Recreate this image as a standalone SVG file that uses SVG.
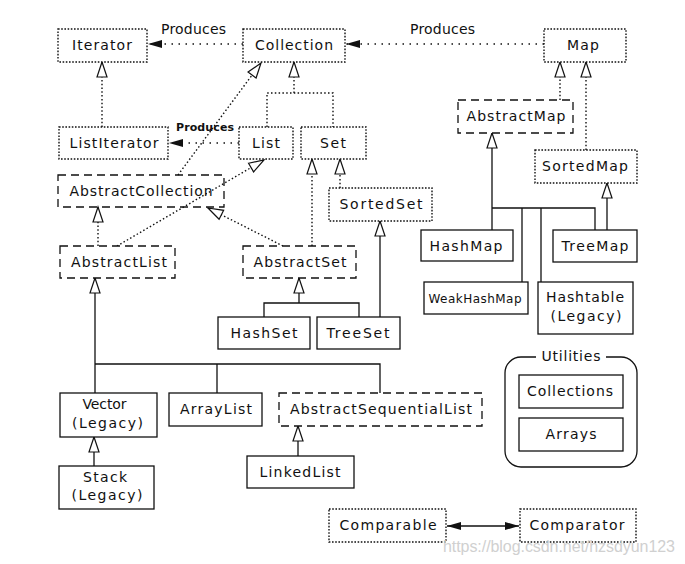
<svg xmlns="http://www.w3.org/2000/svg" width="685" height="564" viewBox="0 0 685 564">
<style>
.t{font-family:"DejaVu Sans","Liberation Sans",sans-serif;font-size:14px;fill:#111;text-anchor:middle}
.ts{font-family:"DejaVu Sans","Liberation Sans",sans-serif;font-size:11px;font-weight:bold;fill:#111;text-anchor:middle}
.tw{font-family:"DejaVu Sans","Liberation Sans",sans-serif;font-size:12px;fill:#111;text-anchor:middle}
.box{fill:#fff;stroke:#111;stroke-width:1.3}
.dot{fill:#fff;stroke:#111;stroke-width:1.4;stroke-dasharray:1.6 1.6}
.dash{fill:#fff;stroke:#111;stroke-width:1.3;stroke-dasharray:8 5}
.ln{fill:none;stroke:#111;stroke-width:1.3}
.dl{fill:none;stroke:#111;stroke-width:1.4;stroke-dasharray:1.5 2.3}
.pl{fill:none;stroke:#111;stroke-width:1.4;stroke-dasharray:1.5 5.5}
.tri{marker-end:url(#tri)}
.arr{marker-end:url(#arr)}
</style>
<defs>
<marker id="tri" markerUnits="userSpaceOnUse" markerWidth="18" markerHeight="14" viewBox="-1 -2 18 14" refX="15" refY="5" orient="auto"><path d="M0,0 L15,5 L0,10 Z" fill="#fff" stroke="#111" stroke-width="1.2"/></marker>
<marker id="arr" markerUnits="userSpaceOnUse" markerWidth="15" markerHeight="9" viewBox="0 0 15 9" refX="14" refY="4.5" orient="auto"><path d="M0,0.5 L14,4.5 L0,8.5 Z" fill="#111"/></marker>
<marker id="arrS" markerUnits="userSpaceOnUse" markerWidth="15" markerHeight="9" viewBox="0 0 15 9" refX="0" refY="4.5" orient="auto"><path d="M14,0.5 L0,4.5 L14,8.5 Z" fill="#111"/></marker>
</defs>
<rect width="685" height="564" fill="#fff"/>

<g id="connectors">
<line class="pl arr" x1="243" y1="44" x2="148" y2="44"/>
<line class="pl arr" x1="544" y1="44" x2="346" y2="44"/>
<line class="pl arr" x1="239" y1="143" x2="169" y2="143"/>
<line class="dl tri" x1="102" y1="127" x2="102" y2="62"/>
<path class="dl tri" d="M267,127 V93 H333 V127 M294,93 V62"/>
<line class="dl tri" x1="178" y1="175" x2="261" y2="63"/>
<line class="dl tri" x1="117" y1="246" x2="264" y2="160"/>
<line class="dl tri" x1="98" y1="246" x2="98" y2="207"/>
<line class="dl tri" x1="283" y1="246" x2="208" y2="208"/>
<line class="dl tri" x1="312" y1="246" x2="312" y2="159"/>
<line class="dl tri" x1="340" y1="188" x2="340" y2="159"/>
<path class="ln tri" d="M264,317 V303 H359 V317 M299,303 V278"/>
<line class="ln tri" x1="380" y1="317" x2="380" y2="221"/>
<line class="dl tri" x1="560" y1="100" x2="560" y2="62"/>
<line class="dl tri" x1="586" y1="150" x2="586" y2="62"/>
<path class="ln tri" d="M492,230 V208 H595 V230 M522,208 V282 M541,208 V282 M492,208 V133"/>
<line class="ln tri" x1="607" y1="230" x2="607" y2="183"/>
<path class="ln tri" d="M95,393 V364 H380 V393 M217,364 V393 M95,364 V278"/>
<line class="ln tri" x1="94" y1="466" x2="94" y2="437"/>
<line class="ln tri" x1="298" y1="456" x2="298" y2="426"/>
<line class="ln" x1="447" y1="526" x2="519" y2="526" marker-start="url(#arrS)" marker-end="url(#arr)"/>
<text class="t" x="193.5" y="34" textLength="65">Produces</text>
<text class="t" x="442.5" y="34" textLength="65">Produces</text>
<text class="ts" x="205" y="131" textLength="58">Produces</text>
</g>

<g id="Iterator"><rect class="dot" x="58" y="29" width="89" height="33"/><text class="t" x="102" y="50" textLength="60">Iterator</text></g>
<g id="Collection"><rect class="dot" x="243" y="29" width="102" height="33"/><text class="t" x="294" y="50" textLength="78">Collection</text></g>
<g id="Map"><rect class="dot" x="544" y="29" width="82" height="33"/><text class="t" x="583" y="50" textLength="32">Map</text></g>
<g id="ListIterator"><rect class="dot" x="59" y="127" width="109" height="32"/><text class="t" x="114" y="148" textLength="89">ListIterator</text></g>
<g id="List"><rect class="dot" x="239" y="127" width="54" height="32"/><text class="t" x="266" y="148" textLength="28">List</text></g>
<g id="Set"><rect class="dot" x="301" y="127" width="65" height="32"/><text class="t" x="333" y="148" textLength="26">Set</text></g>
<g id="AbstractCollection"><rect class="dash" x="58" y="175" width="166" height="32" fill-opacity="0"/><text class="t" x="141" y="196" textLength="143">AbstractCollection</text></g>
<g id="SortedSet"><rect class="dot" x="329" y="188" width="103" height="33"/><text class="t" x="381" y="209" textLength="83">SortedSet</text></g>
<g id="AbstractMap"><rect class="dash" x="458" y="100" width="115" height="33"/><text class="t" x="516" y="121" textLength="99">AbstractMap</text></g>
<g id="SortedMap"><rect class="dot" x="535" y="150" width="102" height="33"/><text class="t" x="585" y="171" textLength="86">SortedMap</text></g>
<g id="AbstractList"><rect class="dash" x="60" y="246" width="115" height="32"/><text class="t" x="119" y="267" textLength="96">AbstractList</text></g>
<g id="AbstractSet"><rect class="dash" x="243" y="246" width="113" height="32"/><text class="t" x="300" y="267" textLength="93">AbstractSet</text></g>
<g id="HashMap"><rect class="box" x="421" y="230" width="92" height="31"/><text class="t" x="466" y="250.5" textLength="73">HashMap</text></g>
<g id="TreeMap"><rect class="box" x="553" y="230" width="84" height="32"/><text class="t" x="595" y="251" textLength="67">TreeMap</text></g>
<g id="WeakHashMap"><rect class="box" x="424" y="282" width="104" height="32"/><text class="tw" x="475" y="302.5" textLength="93">WeakHashMap</text></g>
<g id="Hashtable"><rect class="box" x="538" y="282" width="95" height="52"/><text class="t" x="585" y="302" textLength="78">Hashtable</text><text class="t" x="586" y="320.5" textLength="71">(Legacy)</text></g>
<g id="HashSet"><rect class="box" x="218" y="317" width="92" height="32"/><text class="t" x="264" y="338" textLength="67">HashSet</text></g>
<g id="TreeSet"><rect class="box" x="317" y="317" width="83" height="32"/><text class="t" x="358" y="338" textLength="63">TreeSet</text></g>
<g id="Vector"><rect class="box" x="60" y="393" width="97" height="44"/><text class="t" x="104.5" y="409" textLength="44">Vector</text><text class="t" x="107.5" y="428" textLength="71">(Legacy)</text></g>
<g id="ArrayList"><rect class="box" x="169" y="393" width="93" height="33"/><text class="t" x="216" y="414" textLength="72">ArrayList</text></g>
<g id="AbstractSequentialList"><rect class="dash" x="279" y="393" width="203" height="33"/><text class="t" x="381" y="414" textLength="182">AbstractSequentialList</text></g>
<g id="Stack"><rect class="box" x="59" y="466" width="95" height="43"/><text class="t" x="105" y="482" textLength="44">Stack</text><text class="t" x="107" y="500" textLength="71">(Legacy)</text></g>
<g id="LinkedList"><rect class="box" x="247" y="456" width="107" height="32"/><text class="t" x="300" y="477" textLength="81">LinkedList</text></g>
<g id="Utilities">
<rect class="ln" x="505" y="357" width="132" height="110" rx="16" ry="16"/>
<rect x="536" y="349" width="70" height="16" fill="#fff"/>
<text class="t" x="571" y="361" textLength="59">Utilities</text>
</g>
<g id="Collections"><rect class="box" x="519" y="375" width="104" height="33"/><text class="t" x="570" y="396" textLength="86">Collections</text></g>
<g id="Arrays"><rect class="box" x="519" y="418" width="104" height="33"/><text class="t" x="571" y="439" textLength="51">Arrays</text></g>
<g id="Comparable"><rect class="dot" x="329" y="509" width="117" height="33"/><text class="t" x="388" y="530" textLength="97">Comparable</text></g>
<g id="Comparator"><rect class="dot" x="520" y="509" width="116" height="33"/><text class="t" x="577" y="530" textLength="95">Comparator</text></g>
<text x="559" y="552" font-family="'Liberation Sans',Arial,sans-serif" font-size="16" fill="#d0d0d0" text-anchor="middle" textLength="232">https://blog.csdn.net/hzsdyun123</text>
</svg>
